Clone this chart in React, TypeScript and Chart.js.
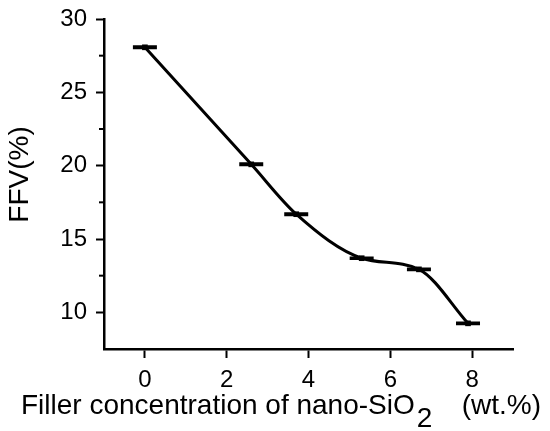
import { useEffect, useRef } from "react";
import { Chart, registerables } from "chart.js";

Chart.register(...registerables);

// values
const FILLER = [0, 2.6, 3.7, 5.3, 6.7, 7.9];
const FFV = [28.07, 20.09, 16.69, 13.69, 12.93, 9.25];
const FFV_ERR = [0.05, 0.05, 0.05, 0.04, 0.05, 0.04];
const X_TICKS = [0, 2, 4, 6, 8];
const Y_TICKS = [10, 15, 20, 25, 30];
const Y_MINOR = [12.5, 17.5, 22.5, 27.5];

const FONT = "'Liberation Sans', Arial, sans-serif";

const errorBars = {
    id: "errorBars",
    afterDatasetsDraw(chart: any) {
        const { ctx, scales } = chart;
        const x = scales.x;
        const y = scales.y;
        ctx.save();
        ctx.strokeStyle = "#000";
        ctx.lineWidth = 2.5;
        FILLER.forEach((fx, i) => {
            const px = x.getPixelForValue(fx);
            const top = y.getPixelForValue(FFV[i] + FFV_ERR[i]);
            const bot = y.getPixelForValue(FFV[i] - FFV_ERR[i]);
            ctx.beginPath();
            ctx.moveTo(px, top);
            ctx.lineTo(px, bot);
            ctx.moveTo(px - 12, top);
            ctx.lineTo(px + 12, top);
            ctx.moveTo(px - 12, bot);
            ctx.lineTo(px + 12, bot);
            ctx.stroke();
        });
        ctx.restore();
    },
};

const axisExtras = {
    id: "axisExtras",
    afterDraw(chart: any) {
        const { ctx, chartArea, scales } = chart;
        const y = scales.y;
        ctx.save();
        ctx.strokeStyle = "#000";
        ctx.lineWidth = 2;
        // short minor ticks on the y axis
        Y_MINOR.forEach((v) => {
            const py = y.getPixelForValue(v);
            ctx.beginPath();
            ctx.moveTo(chartArea.left - 5, py);
            ctx.lineTo(chartArea.left, py);
            ctx.stroke();
        });

        ctx.fillStyle = "#000";
        ctx.font = `28px ${FONT}`;

        // y title
        ctx.save();
        ctx.translate(28, 174.5);
        ctx.rotate(-Math.PI / 2);
        ctx.textAlign = "center";
        ctx.textBaseline = "alphabetic";
        ctx.fillText("FFV(%)", 0, 0);
        ctx.restore();

        // x title with subscript
        ctx.textAlign = "left";
        ctx.textBaseline = "alphabetic";
        const main = "Filler concentration of nano-SiO";
        ctx.fillText(main, 21, 414);
        const w = ctx.measureText(main).width;
        ctx.fillText("2", 21 + w + 2, 427);
        ctx.textAlign = "right";
        ctx.fillText("(wt.%)", 541, 414);
        ctx.restore();
    },
};

const App = () => {
    const canvasRef = useRef<HTMLCanvasElement>(null);

    useEffect(() => {
        if (!canvasRef.current) return;
        const chart = new Chart(canvasRef.current, {
            type: "line",
            data: {
                datasets: [
                    {
                        data: FILLER.map((fx, i) => ({ x: fx, y: FFV[i] })),
                        borderColor: "#000",
                        backgroundColor: "#000",
                        borderWidth: 3,
                        cubicInterpolationMode: "monotone",
                        pointStyle: "rect",
                        pointRadius: 4,
                        pointBorderWidth: 0,
                        fill: false,
                    },
                ],
            },
            plugins: [errorBars, axisExtras],
            options: {
                animation: false,
                responsive: true,
                maintainAspectRatio: false,
                layout: { padding: { top: 19, right: 37, left: 0, bottom: 0 } },
                plugins: {
                    legend: { display: false },
                    tooltip: { enabled: false },
                },
                scales: {
                    x: {
                        type: "linear",
                        min: -1,
                        max: 9,
                        afterBuildTicks: (s: any) => {
                            s.ticks = X_TICKS.map((v) => ({ value: v }));
                        },
                        afterFit: (s: any) => {
                            s.height = 82;
                            s.paddingLeft = 0;
                            s.paddingRight = 0;
                        },
                        grid: {
                            drawOnChartArea: false,
                            drawTicks: true,
                            tickLength: 9,
                            tickWidth: 2,
                            tickColor: "#000",
                        },
                        border: { color: "#000", width: 2.5 },
                        ticks: {
                            font: { family: FONT, size: 24 },
                            color: "#000",
                            padding: 8,
                            maxRotation: 0,
                            autoSkip: false,
                        },
                    },
                    y: {
                        type: "linear",
                        min: 7.5,
                        max: 30,
                        afterBuildTicks: (s: any) => {
                            s.ticks = Y_TICKS.map((v) => ({ value: v }));
                        },
                        afterFit: (s: any) => {
                            s.width = 104;
                            s.paddingTop = 0;
                            s.paddingBottom = 0;
                        },
                        grid: {
                            drawOnChartArea: false,
                            drawTicks: true,
                            tickLength: 8,
                            tickWidth: 2,
                            tickColor: "#000",
                        },
                        border: { color: "#000", width: 2.5 },
                        ticks: {
                            font: { family: FONT, size: 24 },
                            color: "#000",
                            padding: 9,
                            autoSkip: false,
                        },
                    },
                },
            },
        });
        return () => {
            chart.destroy();
        };
    }, []);

    return (
        <div style={{ position: "fixed", left: 0, top: 0, width: "550px", height: "431px", background: "#fff" }}>
            <canvas ref={canvasRef}></canvas>
        </div>
    );
};

export default App;
